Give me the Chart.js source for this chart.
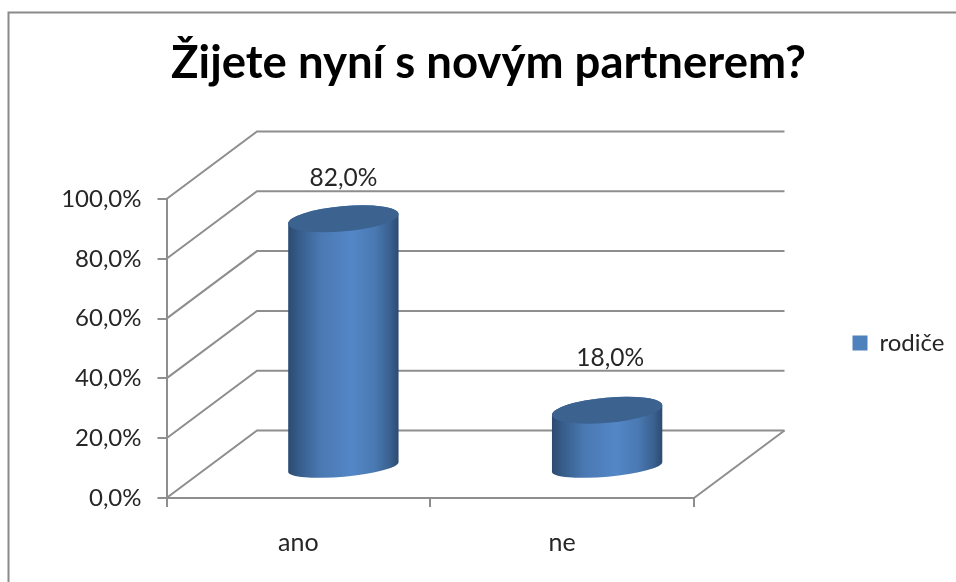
<!DOCTYPE html>
<html lang="cs">
<head>
<meta charset="utf-8">
<title>Žijete nyní s novým partnerem?</title>
<script src="https://cdn.jsdelivr.net/npm/chart.js@4"></script>
<style>
html,body{margin:0;padding:0;background:#fff;overflow:hidden}
#wrap{position:relative;width:956px;height:582px}
canvas{display:block;filter:blur(0.45px)}
</style>
</head>
<body>
<div id="wrap"><canvas id="c" width="956" height="582"></canvas></div>
<script>
const categories = ['ano', 'ne'];
const seriesName = 'rodiče';
const values = [82, 18];
const titleText = 'Žijete nyní s novým partnerem?';
const fontFamily = 'Lato, Carlito, "Open Sans", sans-serif';
const lineColor = '#8e8e8e';
const textColor = '#262626';
const fmt = v => v.toFixed(1).replace('.', ',') + '%';

const DEPTH = { x: 90.5, y: -67.5 };
const CYL = { dx: 45, dy: -31, capLift: 3, tilt: -5.1 * Math.PI / 180, capB: 12.6, baseB: 9.7 };
const LABEL_SHIFT = [{ x: 0, y: -41 }, { x: 3, y: -52.5 }];

const scene = {
  id: 'scene',
  beforeLayout(chart) {
    const l = chart.legend;
    if (!l.__wrapped) {
      const fit = l.fit;
      l.fit = function () { fit.call(this); this.width = 262; };
      l.__wrapped = true;
    }
  },
  afterLayout(chart) {
    const l = chart.legend, pad = l.options.labels.padding;
    l.left = 852.5 - pad; l.right = 956;
    l.top = 331 - pad; l.bottom = 400;
    const t = chart.titleBlock;
    t.left = 0; t.right = 977;
  },
  beforeDraw(chart) {
    const c = chart.ctx;
    c.save();
    c.strokeStyle = '#8a8a8a';
    c.lineWidth = 2;
    c.beginPath();
    c.moveTo(8.5, 582); c.lineTo(8.5, 12.5); c.lineTo(956, 12.5);
    c.stroke();
    c.restore();
  },
  beforeDatasetsDraw(chart) {
    const c = chart.ctx, { x, y } = chart.scales;
    const L = chart.chartArea.left, R = chart.chartArea.right;
    c.save();
    c.strokeStyle = lineColor;
    c.lineWidth = 2;
    c.lineJoin = 'miter';
    y.ticks.forEach(t => {
      const py = y.getPixelForValue(t.value);
      c.beginPath();
      c.moveTo(L, py);
      c.lineTo(L + DEPTH.x, py + DEPTH.y);
      c.lineTo(R + DEPTH.x, py + DEPTH.y);
      c.stroke();
    });
    const y0 = y.getPixelForValue(0);
    c.beginPath();
    c.moveTo(R, y0);
    c.lineTo(R + DEPTH.x, y0 + DEPTH.y);
    c.stroke();
    c.restore();
  },
  beforeDatasetDraw(chart, args) {
    const c = chart.ctx;
    const base = chart.scales.y.getPixelForValue(0);
    args.meta.data.forEach((el, i) => {
      const a = el.width / 2;
      const cx = el.x + CYL.dx;
      const by = base + CYL.dy;
      const ty = el.y + CYL.dy - CYL.capLift;
      const g = c.createLinearGradient(cx - a, 0, cx + a, 0);
      g.addColorStop(0, '#2b4a70');
      g.addColorStop(0.12, '#38608f');
      g.addColorStop(0.30, '#4a79b3');
      g.addColorStop(0.58, '#5487c7');
      g.addColorStop(0.78, '#4a79b3');
      g.addColorStop(0.92, '#3a6190');
      g.addColorStop(1, '#2b4a70');
      c.save();
      c.fillStyle = g;
      c.beginPath();
      c.ellipse(cx, by, a, CYL.baseB, CYL.tilt, 0, Math.PI);
      c.ellipse(cx, ty, a, CYL.capB, CYL.tilt, Math.PI, 2 * Math.PI);
      c.closePath();
      c.fill();
      c.fillStyle = '#3c6290';
      c.beginPath();
      c.ellipse(cx, ty, a, CYL.capB, CYL.tilt, 0, 2 * Math.PI);
      c.fill();
      c.fillStyle = textColor;
      c.font = '24.5px ' + fontFamily;
      c.textAlign = 'center';
      c.textBaseline = 'middle';
      const s = LABEL_SHIFT[i];
      c.fillText(fmt(values[i]), cx + s.x, ty + s.y);
      c.restore();
    });
    return false;
  }
};

new Chart(document.getElementById('c'), {
  type: 'bar',
  data: {
    labels: categories,
    datasets: [{
      label: seriesName,
      data: values,
      backgroundColor: '#4f81bd',
      borderWidth: 0,
      barPercentage: 1,
      categoryPercentage: 0.42
    }]
  },
  plugins: [scene],
  options: {
    responsive: false,
    animation: false,
    devicePixelRatio: 1,
    layout: { padding: 0 },
    plugins: {
      tooltip: { enabled: false },
      title: {
        display: true,
        text: titleText,
        color: '#000',
        font: { family: fontFamily, size: 45.5, weight: 'bold', lineHeight: 1 },
        padding: { top: 41, bottom: 112.5 }
      },
      legend: {
        position: 'right',
        align: 'start',
        labels: {
          boxWidth: 15,
          boxHeight: 15,
          padding: 10,
          color: textColor,
          font: { family: fontFamily, size: 24 }
        }
      }
    },
    scales: {
      y: {
        min: 0,
        max: 100,
        ticks: { stepSize: 20, callback: fmt, color: textColor, font: { family: fontFamily, size: 24 }, padding: 16 },
        grid: { drawOnChartArea: false, color: lineColor, lineWidth: 2, tickLength: 9 },
        border: { color: lineColor, width: 2 },
        afterFit(s) { s.width = 166.5; }
      },
      x: {
        offset: true,
        ticks: { color: textColor, font: { family: fontFamily, size: 25 }, padding: 21, maxRotation: 0 },
        grid: { offset: true, drawOnChartArea: false, color: lineColor, lineWidth: 2, tickLength: 9 },
        border: { color: lineColor, width: 2 },
        afterFit(s) { s.height = 84; }
      }
    }
  }
});
</script>
</body>
</html>
